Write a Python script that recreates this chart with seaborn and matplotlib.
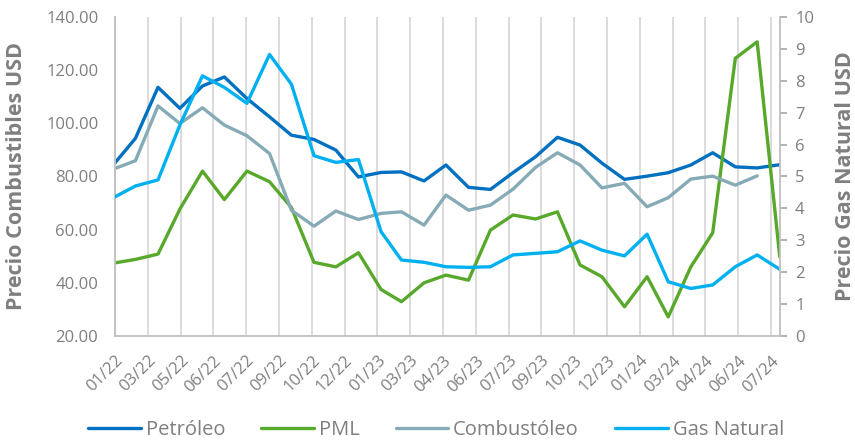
import numpy as np
import pandas as pd
import matplotlib.pyplot as plt
import seaborn as sns

# monthly values, month-end dates 01/2022 .. 07/2024
fechas = pd.date_range('2022-01-31', periods=31, freq='ME')

petroleo = [85.1, 94.3, 113.5, 105.6, 114.0, 117.4, 109.3, 102.4, 95.5, 93.9,
            89.9, 79.8, 81.5, 81.7, 78.3, 84.3, 75.9, 75.1, 81.4, 87.4,
            94.7, 91.8, 85.0, 78.9, 80.1, 81.4, 84.3, 88.9, 83.6, 83.2, 84.4]
pml = [47.5, 48.8, 50.8, 67.7, 82.0, 71.3, 82.0, 78.0, 68.3, 47.7,
       46.0, 51.3, 37.5, 32.9, 40.0, 42.9, 41.0, 59.8, 65.5, 64.0,
       66.7, 46.7, 42.3, 31.0, 42.3, 27.2, 46.0, 58.8, 124.4, 130.6, 49.8]
combustoleo = [83.0, 85.9, 106.5, 99.9, 105.8, 99.3, 95.3, 88.6, 67.3, 61.3,
               67.0, 63.8, 66.1, 66.7, 61.7, 73.0, 67.3, 69.2, 75.2, 83.4,
               88.9, 84.3, 75.7, 77.4, 68.6, 72.0, 79.0, 80.1, 76.7, 80.2, np.nan]
gas_natural = [4.36, 4.70, 4.89, 6.61, 8.15, 7.79, 7.29, 8.82, 7.89, 5.65,
               5.44, 5.53, 3.27, 2.38, 2.31, 2.17, 2.15, 2.17, 2.54, 2.59,
               2.64, 2.98, 2.69, 2.51, 3.19, 1.70, 1.49, 1.60, 2.17, 2.54, 2.09]

# axis ticks every 45 days
ticks_x = pd.date_range('2022-01-31', periods=21, freq='45D')
etiquetas_x = ['01/22', '03/22', '05/22', '06/22', '07/22', '09/22', '10/22',
               '12/22', '01/23', '03/23', '04/23', '06/23', '07/23', '09/23',
               '10/23', '12/23', '01/24', '03/24', '04/24', '06/24', '07/24']

df = pd.DataFrame({'fecha': fechas, 'Petróleo': petroleo, 'PML': pml,
                   'Combustóleo': combustoleo, 'Gas Natural': gas_natural})

sns.set_style('white')
plt.rcParams['font.family'] = ['Open Sans', 'DejaVu Sans']

gris = '#7f7f7f'
colores = {'Petróleo': '#0070C0', 'PML': '#58A82B',
           'Combustóleo': '#86AAB6', 'Gas Natural': '#00B0F0'}
lw = 2.4

fig = plt.figure(figsize=(8.55, 4.43), dpi=100)
ax = fig.add_axes([0.1345, 0.2415, 0.7775, 0.7205])
ax2 = ax.twinx()

for serie in ['Petróleo', 'PML', 'Combustóleo']:
    sns.lineplot(data=df, x='fecha', y=serie, ax=ax, color=colores[serie],
                 linewidth=lw, label=serie, legend=False)
sns.lineplot(data=df, x='fecha', y='Gas Natural', ax=ax2,
             color=colores['Gas Natural'], linewidth=lw, label='Gas Natural', legend=False)

ax.set_xlim(fechas[0], fechas[-1])
ax.set_ylim(20, 140)
ax.set_yticks(np.arange(20, 141, 20))
ax.set_yticklabels([f'{v:.2f}' for v in np.arange(20, 141, 20)])
ax2.set_ylim(0, 10)
ax2.set_yticks(range(0, 11))

ax.set_xticks(ticks_x)
ax.set_xticklabels(etiquetas_x, rotation=45, ha='right', rotation_mode='anchor')
ax.grid(axis='x', color='#d9d9d9', linewidth=1.3)
ax.grid(axis='y', visible=False)
ax2.grid(False)

for a in (ax, ax2):
    a.spines['top'].set_visible(False)
    for s in ('left', 'right', 'bottom'):
        a.spines[s].set_color('#bfbfbf')
        a.spines[s].set_linewidth(1.3)
ax2.spines['left'].set_visible(False)
ax2.spines['bottom'].set_visible(False)
ax.spines['right'].set_visible(False)

ax.tick_params(axis='y', length=0, labelsize=12, labelcolor=gris, pad=12)
ax.tick_params(axis='x', length=0, labelsize=12, labelcolor=gris, pad=12)
ax2.tick_params(axis='y', length=5, width=1.2, color='#a6a6a6', labelsize=12,
                labelcolor=gris, pad=6)

ax.set_xlabel('')
ax.set_ylabel('Precio Combustibles USD', fontsize=15.5, fontweight='bold', color=gris, labelpad=14)
ax2.set_ylabel('Precio Gas Natural USD', fontsize=15.5, fontweight='bold', color=gris, labelpad=15)

h1, l1 = ax.get_legend_handles_labels()
h2, l2 = ax2.get_legend_handles_labels()
fig.legend(h1 + h2, l1 + l2, loc='center', bbox_to_anchor=(0.51, 0.03), ncol=4,
           frameon=False, fontsize=14.5, labelcolor=gris, handlelength=2.6,
           handletextpad=0.25, columnspacing=1.8)

fig.savefig('out.png', dpi=100)
